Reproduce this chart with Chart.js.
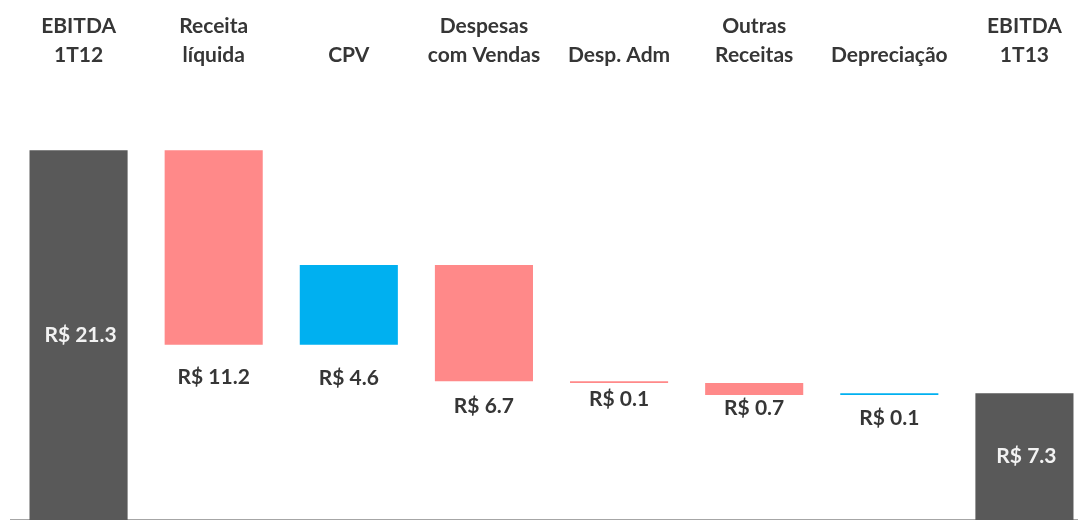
<!DOCTYPE html>
<html>
<head>
<meta charset="utf-8">
<script src="https://cdn.jsdelivr.net/npm/chart.js@4.4.1/dist/chart.umd.min.js"></script>
<style>
  html, body { margin: 0; padding: 0; background: #fff; overflow: hidden; }
  #wrap { position: relative; width: 1092px; height: 520px; }
</style>
</head>
<body>
<div id="wrap"><canvas id="chart"></canvas></div>
<script>
// categorias e valores (R$ milhões)
const categories = [
  ['EBITDA', '1T12'], ['Receita', 'líquida'], 'CPV', ['Despesas', 'com Vendas'],
  'Desp. Adm', ['Outras', 'Receitas'], 'Depreciação', ['EBITDA', '1T13']
];
const changes = [21.3, -11.2, 4.6, -6.7, -0.1, -0.7, 0.1, 7.3];
const isTotal = [true, false, false, false, false, false, false, true];

// distancia do rotulo abaixo da barra (px)
const labelGap = [0, 33, 34, 25, 16, 13, 23, 0];

const colTotal = '#595959';
const colDown = '#FF8989';
const colUp = '#00B0F0';

// monta as barras flutuantes
const ranges = [];
let run = 0;
changes.forEach((v, i) => {
  if (isTotal[i]) {
    ranges.push([0, v]);
    run = v;
  } else {
    ranges.push([run, run + v]);
    run = +(run + v).toFixed(1);
  }
});
const colors = changes.map((v, i) => isTotal[i] ? colTotal : (v < 0 ? colDown : colUp));

const labelPlugin = {
  id: 'valueLabels',
  afterDatasetsDraw(chart) {
    const ctx = chart.ctx;
    const meta = chart.getDatasetMeta(0);
    ctx.save();
    ctx.font = 'bold 21px Lato';
    ctx.textAlign = 'center';
    ctx.textBaseline = 'middle';
    meta.data.forEach((bar, i) => {
      const txt = 'R$ ' + Math.abs(changes[i]).toFixed(1);
      const top = Math.min(bar.y, bar.base);
      const bottom = Math.max(bar.y, bar.base);
      if (isTotal[i]) {
        ctx.fillStyle = '#F2F2F2';
        ctx.fillText(txt, bar.x + 2, (top + bottom) / 2);
      } else {
        ctx.fillStyle = '#363636';
        ctx.fillText(txt, bar.x, bottom + labelGap[i]);
      }
    });
    ctx.restore();
  }
};

new Chart(document.getElementById('chart'), {
  type: 'bar',
  data: {
    labels: categories,
    datasets: [{
      data: ranges,
      backgroundColor: colors,
      barPercentage: 0.726,
      categoryPercentage: 1,
      borderSkipped: false
    }]
  },
  options: {
    responsive: true,
    maintainAspectRatio: false,
    animation: false,
    layout: { padding: { left: 11, right: 0, top: 0, bottom: 0 } },
    plugins: { legend: { display: false }, tooltip: { enabled: false } },
    scales: {
      x: {
        position: 'top',
        grid: { display: false, drawTicks: false },
        border: { display: false },
        ticks: {
          color: '#363636',
          font: { family: 'Lato', size: 21, weight: 'bold', lineHeight: 1.4 },
          padding: 30,
          maxRotation: 0,
          autoSkip: false
        },
        afterFit(scale) { scale.height = 100; }
      },
      xb: {
        type: 'category',
        position: 'bottom',
        labels: categories,
        grid: { display: false, drawTicks: false },
        border: { display: true, color: '#A6A6A6', width: 2 },
        ticks: { display: false },
        afterFit(scale) { scale.height = 0; }
      },
      y: {
        display: false,
        min: 0,
        max: 24.2
      }
    }
  },
  plugins: [labelPlugin]
});
</script>
</body>
</html>
